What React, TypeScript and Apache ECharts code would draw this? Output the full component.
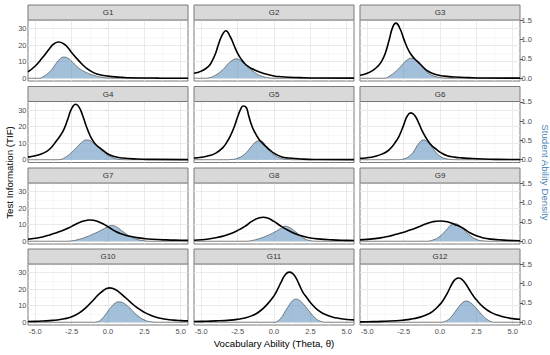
import React, { useEffect, useRef } from 'react';
import * as echarts from 'echarts';

const groups = ['G1', 'G2', 'G3', 'G4', 'G5', 'G6', 'G7', 'G8', 'G9', 'G10', 'G11', 'G12'];
const thetaTicks = [-5, -2.5, 0, 2.5, 5];
const thetaMinor = [-3.75, -1.25, 1.25, 3.75];
const tifTicks = [0, 10, 20, 30];
const tifMinor = [5, 15, 25, 35];
const densityTicks = [0, 0.5, 1, 1.5];

const tifG1 = [[-5.5, 3.9], [-5, 7.4], [-4.5, 12.5], [-4, 18.2], [-3.75, 20.6], [-3.4, 22], [-3, 20.6], [-2.75, 18.5], [-2.5, 15.6], [-2, 10.5], [-1.5, 6.2], [-1, 3.4], [-0.5, 2.0], [0, 1.3], [0.5, 0.8], [1, 0.5], [1.5, 0.3], [2.5, 0.15], [3.5, 0.08], [5.5, 0.03]];
const densG1 = [[-5.5, 0], [-4.75, 0], [-4.5, 0.03], [-4, 0.17], [-3.75, 0.29], [-3.5, 0.42], [-3.25, 0.52], [-3.05, 0.55], [-2.75, 0.52], [-2.5, 0.44], [-2.25, 0.35], [-2, 0.26], [-1.5, 0.15], [-1, 0.08], [-0.5, 0.03], [0, 0.008], [0.5, 0], [5.5, 0]];

const tifG2 = [[-5.5, 3.0], [-5, 4.3], [-4.5, 7.2], [-4.25, 10.5], [-4, 15.5], [-3.75, 22.3], [-3.5, 27.2], [-3.32, 28.8], [-3, 25], [-2.75, 20], [-2.5, 15.0], [-2.25, 11.5], [-2, 8.8], [-1.75, 7.0], [-1.5, 5.7], [-1.25, 4.7], [-1, 3.8], [-0.5, 2.4], [0, 1.4], [0.5, 0.9], [1, 0.6], [2, 0.3], [3, 0.15], [5.5, 0.05]];
const densG2 = [[-5.5, 0], [-4.75, 0], [-4.5, 0.01], [-4, 0.085], [-3.5, 0.23], [-3.25, 0.34], [-3, 0.43], [-2.75, 0.49], [-2.61, 0.506], [-2.25, 0.45], [-2, 0.36], [-1.75, 0.27], [-1.5, 0.2], [-1.25, 0.13], [-1, 0.08], [-0.5, 0.02], [0, 0.003], [0.5, 0], [5.5, 0]];

const tifG3 = [[-5.5, 1.8], [-5, 3.0], [-4.5, 5.5], [-4.25, 7.5], [-4, 10.5], [-3.75, 15.5], [-3.5, 23.0], [-3.25, 31.0], [-3.03, 33.4], [-2.75, 30.0], [-2.5, 24.0], [-2.25, 18.5], [-2, 14.5], [-1.75, 11.8], [-1.5, 9.8], [-1.25, 7.6], [-1, 5.4], [-0.75, 3.9], [-0.5, 2.9], [0, 1.7], [0.5, 1.1], [1, 0.7], [2, 0.35], [3, 0.15], [5.5, 0.05]];
const densG3 = [[-5.5, 0], [-4, 0], [-3.75, 0.005], [-3.5, 0.05], [-3, 0.19], [-2.5, 0.39], [-2.25, 0.48], [-1.95, 0.52], [-1.75, 0.49], [-1.5, 0.41], [-1.25, 0.31], [-1, 0.2], [-0.75, 0.12], [-0.5, 0.07], [0, 0.02], [0.5, 0.003], [1, 0], [5.5, 0]];

const tifG4 = [[-5.5, 1.6], [-5, 2.4], [-4.5, 3.8], [-4, 6.5], [-3.5, 12.0], [-3.25, 15.0], [-3, 19.0], [-2.75, 25.0], [-2.5, 31.0], [-2.22, 33.6], [-2, 32.0], [-1.75, 27.0], [-1.5, 20.5], [-1.25, 15.0], [-1, 11.0], [-0.75, 8.5], [-0.5, 6.8], [-0.25, 5.0], [0, 3.5], [0.5, 1.8], [1, 1.0], [2, 0.4], [3, 0.2], [5.5, 0.05]];
const densG4 = [[-5.5, 0], [-3.5, 0], [-3.25, 0.01], [-3, 0.05], [-2.5, 0.19], [-2, 0.38], [-1.75, 0.47], [-1.49, 0.514], [-1.25, 0.5], [-1, 0.43], [-0.75, 0.35], [-0.5, 0.27], [-0.25, 0.19], [0, 0.12], [0.5, 0.03], [1, 0.003], [1.5, 0], [5.5, 0]];

const tifG5 = [[-5.5, 1.0], [-5, 1.5], [-4.5, 2.4], [-4, 4.0], [-3.5, 7.5], [-3.25, 10.5], [-3, 14.5], [-2.75, 19.5], [-2.5, 26.0], [-2.25, 31.5], [-2.11, 32.6], [-1.9, 31.5], [-1.75, 27.0], [-1.5, 20.0], [-1.25, 15.5], [-1, 12.0], [-0.75, 9.6], [-0.5, 7.6], [-0.25, 5.6], [0, 4.0], [0.5, 1.8], [1, 1.0], [2, 0.35], [3, 0.15], [5.5, 0.05]];
const densG5 = [[-5.5, 0], [-3.25, 0], [-3, 0.005], [-2.5, 0.04], [-2, 0.15], [-1.5, 0.37], [-1.25, 0.46], [-0.96, 0.497], [-0.75, 0.46], [-0.5, 0.31], [-0.25, 0.21], [0, 0.13], [0.5, 0.035], [1, 0.008], [1.5, 0], [5.5, 0]];

const tifG6 = [[-5.5, 0.8], [-5, 1.2], [-4.5, 2.0], [-4, 3.4], [-3.5, 6.0], [-3, 11.5], [-2.75, 15.5], [-2.5, 21.0], [-2.25, 26.5], [-2, 28.4], [-1.75, 27.0], [-1.5, 23.0], [-1.25, 18.0], [-1, 13.8], [-0.75, 10.5], [-0.5, 8.0], [-0.25, 6.3], [0, 4.6], [0.5, 2.4], [1, 1.6], [1.5, 1.1], [2, 0.8], [3, 0.4], [4, 0.2], [5.5, 0.1]];
const densG6 = [[-5.5, 0], [-3, 0], [-2.5, 0.02], [-2, 0.13], [-1.75, 0.25], [-1.5, 0.4], [-1.15, 0.514], [-1, 0.5], [-0.75, 0.42], [-0.5, 0.3], [-0.25, 0.18], [0, 0.09], [0.5, 0.02], [1, 0.002], [1.5, 0], [5.5, 0]];

const tifG7 = [[-5.5, 1.2], [-5, 1.8], [-4.5, 2.6], [-4, 3.8], [-3.5, 5.3], [-3, 6.9], [-2.5, 9.0], [-2, 11.2], [-1.5, 12.6], [-1.26, 12.9], [-1, 12.7], [-0.5, 11.2], [0, 8.8], [0.5, 6.0], [1, 4.2], [1.5, 3.0], [2, 2.2], [2.5, 1.6], [3, 1.2], [4, 0.8], [5, 0.6], [5.5, 0.5]];
const densG7 = [[-5.5, 0], [-3, 0], [-2.5, 0.01], [-2, 0.05], [-1.5, 0.11], [-1, 0.19], [-0.5, 0.28], [0, 0.38], [0.23, 0.41], [0.5, 0.39], [0.75, 0.33], [1, 0.26], [1.5, 0.13], [2, 0.05], [2.5, 0.012], [3, 0], [5.5, 0]];

const tifG8 = [[-5.5, 0.6], [-5, 0.9], [-4.5, 1.4], [-4, 2.1], [-3.5, 3.1], [-3, 4.5], [-2.5, 6.5], [-2, 9.0], [-1.5, 12.2], [-1, 14.2], [-0.73, 14.5], [-0.5, 14.2], [0, 12.0], [0.5, 9.0], [1, 6.5], [1.5, 4.4], [2, 3.0], [2.5, 2.0], [3, 1.4], [4, 0.8], [5, 0.5], [5.5, 0.4]];
const densG8 = [[-5.5, 0], [-2, 0], [-1.5, 0.02], [-1, 0.07], [-0.5, 0.14], [0, 0.23], [0.5, 0.34], [0.76, 0.39], [1, 0.37], [1.5, 0.24], [2, 0.09], [2.5, 0.015], [3, 0], [5.5, 0]];

const tifG9 = [[-5.5, 0.8], [-5, 1.1], [-4.5, 1.6], [-4, 2.2], [-3.5, 3.0], [-3, 4.2], [-2.5, 5.5], [-2, 6.9], [-1.5, 8.6], [-1, 10.4], [-0.5, 11.8], [0, 12.3], [0.5, 11.8], [1, 10.2], [1.5, 8.3], [2, 5.4], [2.5, 3.3], [3, 2.0], [3.5, 1.3], [4, 0.9], [5, 0.4], [5.5, 0.3]];
const densG9 = [[-5.5, 0], [-1, 0], [-0.5, 0.03], [0, 0.13], [0.5, 0.32], [0.75, 0.42], [0.98, 0.46], [1.25, 0.43], [1.5, 0.35], [2, 0.17], [2.5, 0.05], [3, 0.008], [3.5, 0], [5.5, 0]];

const tifG10 = [[-5.5, 0.4], [-5, 0.5], [-4.5, 0.7], [-4, 1.0], [-3.5, 1.4], [-3, 2.1], [-2.5, 3.3], [-2, 5.5], [-1.5, 9.0], [-1, 13.5], [-0.5, 18.0], [0.11, 20.8], [0.5, 19.8], [1, 16.5], [1.5, 12.5], [2, 8.8], [2.5, 6.0], [3, 4.0], [3.5, 2.6], [4, 1.8], [4.5, 1.3], [5, 1.0], [5.5, 0.8]];
const densG10 = [[-5.5, 0], [-1, 0], [-0.75, 0.01], [-0.5, 0.06], [-0.25, 0.16], [0, 0.29], [0.25, 0.41], [0.5, 0.5], [0.73, 0.53], [1, 0.51], [1.25, 0.45], [1.5, 0.37], [1.75, 0.27], [2, 0.18], [2.5, 0.06], [3, 0.01], [3.5, 0], [5.5, 0]];

const tifG11 = [[-5.5, 0.4], [-5, 0.5], [-4, 0.8], [-3, 1.3], [-2.5, 1.8], [-2, 2.6], [-1.5, 4.0], [-1, 6.5], [-0.5, 10.5], [0, 16.0], [0.25, 20.0], [0.5, 24.5], [0.75, 28.5], [1.05, 30.4], [1.25, 29.8], [1.5, 27.0], [1.75, 22.5], [2, 18.0], [2.25, 15.0], [2.5, 12.0], [3, 7.5], [3.5, 4.8], [4, 3.2], [4.5, 2.3], [5, 1.7], [5.5, 1.4]];
const densG11 = [[-5.5, 0], [0, 0], [0.25, 0.03], [0.5, 0.12], [0.75, 0.27], [1, 0.42], [1.25, 0.55], [1.51, 0.6], [1.75, 0.57], [2, 0.48], [2.25, 0.37], [2.5, 0.25], [2.75, 0.14], [3, 0.06], [3.25, 0.02], [3.5, 0], [5.5, 0]];

const tifG12 = [[-5.5, 0.2], [-5, 0.3], [-4, 0.5], [-3, 0.9], [-2.5, 1.3], [-2, 1.9], [-1.5, 2.8], [-1, 4.2], [-0.5, 6.6], [0, 10.8], [0.25, 13.8], [0.5, 17.5], [0.75, 22.0], [1, 25.5], [1.26, 26.8], [1.5, 26.0], [1.75, 23.5], [2, 20.0], [2.25, 16.5], [2.5, 13.6], [3, 9.0], [3.5, 6.0], [4, 4.2], [4.5, 3.0], [5, 2.2], [5.5, 1.8]];
const densG12 = [[-5.5, 0], [0, 0], [0.25, 0.01], [0.5, 0.05], [0.75, 0.13], [1, 0.25], [1.25, 0.38], [1.5, 0.49], [1.79, 0.55], [2, 0.53], [2.25, 0.46], [2.5, 0.36], [2.75, 0.25], [3, 0.15], [3.25, 0.07], [3.5, 0.02], [3.75, 0], [5.5, 0]];

const tifData = [tifG1, tifG2, tifG3, tifG4, tifG5, tifG6, tifG7, tifG8, tifG9, tifG10, tifG11, tifG12];
const densData = [densG1, densG2, densG3, densG4, densG5, densG6, densG7, densG8, densG9, densG10, densG11, densG12];

const FONT = 'Liberation Sans, Arial, Helvetica, sans-serif';

export default function App() {
  const ref = useRef<HTMLDivElement>(null);
  useEffect(() => {
    document.body.style.margin = '0';
    if (!ref.current) return;
    const chart = echarts.init(ref.current, undefined, { renderer: 'svg' });
    const colLeft = [28, 194, 360];
    const rowTop = [20, 101.5, 183, 264];
    const W = 160;
    const H = 61;
    const tifMin = -1.68, tifMax = 35.3;
    const k = 35 / 1.5;
    const grids: any[] = [];
    const xAxes: any[] = [];
    const yAxes: any[] = [];
    const series: any[] = [];
    const graphics: any[] = [];
    const major = { color: '#e8e8e8', width: 0.9, type: 'solid' };
    const minor = { color: '#f3f3f3', width: 0.6, type: 'solid' };
    groups.forEach((g, i) => {
      const row = Math.floor(i / 3);
      const col = i % 3;
      const left = colLeft[col];
      const top = rowTop[row];
      grids.push({ left, top, width: W, height: H, show: true, backgroundColor: '#fff', borderColor: '#7a7a7a', borderWidth: 1 });
      xAxes.push({
        type: 'value', gridIndex: i, min: -5.5, max: 5.5,
        axisLine: { show: false }, splitLine: { show: false },
        axisTick: { show: row === 3, length: 3, lineStyle: { color: '#555' }, customValues: thetaTicks },
        axisLabel: { show: row === 3, customValues: thetaTicks, formatter: (v: number) => v.toFixed(1), fontSize: 7.5, color: '#4d4d4d', margin: 2.5, fontFamily: FONT },
      });
      yAxes.push({
        type: 'value', gridIndex: i, position: 'left', min: tifMin, max: tifMax,
        axisLine: { show: false }, splitLine: { show: false },
        axisTick: { show: col === 0, length: 3.5, lineStyle: { color: '#555' }, customValues: tifTicks },
        axisLabel: { show: col === 0, customValues: tifTicks, formatter: (v: number) => String(v), fontSize: 7.5, color: '#4d4d4d', margin: 1.5, fontFamily: FONT },
      });
      yAxes.push({
        type: 'value', gridIndex: i, position: 'right', min: tifMin / k, max: tifMax / k,
        axisLine: { show: false }, splitLine: { show: false },
        axisTick: { show: col === 2, length: 3, lineStyle: { color: '#555' }, customValues: densityTicks },
        axisLabel: { show: col === 2, customValues: densityTicks, formatter: (v: number) => v.toFixed(1), fontSize: 7.5, color: '#4d4d4d', margin: 1.5, fontFamily: FONT },
      });
      const ml: any[] = [];
      thetaMinor.forEach((v) => ml.push({ xAxis: v, lineStyle: minor }));
      tifMinor.forEach((v) => ml.push({ yAxis: v, lineStyle: minor }));
      thetaTicks.forEach((v) => ml.push({ xAxis: v, lineStyle: major }));
      tifTicks.forEach((v) => ml.push({ yAxis: v, lineStyle: major }));
      series.push({
        type: 'line', xAxisIndex: i, yAxisIndex: 2 * i, data: [], z: 1, silent: true,
        markLine: { z: 1, silent: true, symbol: 'none', label: { show: false }, animation: false, data: ml },
      });
      series.push({
        type: 'line', xAxisIndex: i, yAxisIndex: 2 * i + 1, data: densData[i], z: 8,
        smooth: true, showSymbol: false, symbol: 'none', silent: true,
        lineStyle: { color: '#3a3a3a', width: 0.6 },
        areaStyle: { color: 'rgba(70,130,180,0.5)', opacity: 1 },
      });
      series.push({
        type: 'line', xAxisIndex: i, yAxisIndex: 2 * i, data: tifData[i], z: 9,
        smooth: true, showSymbol: false, symbol: 'none', silent: true,
        lineStyle: { color: '#000', width: 1.6 },
      });
      graphics.push({
        type: 'rect', shape: { x: left, y: top - 15, width: W, height: 15 },
        style: { fill: '#d9d9d9', stroke: '#7a7a7a', lineWidth: 1 }, z: 10,
      });
      graphics.push({
        type: 'text', x: left + W / 2, y: top - 7.5, z: 11,
        style: { text: g, align: 'center', verticalAlign: 'middle', fontSize: 8, fill: '#333', fontFamily: FONT },
      });
    });
    graphics.push({
      type: 'text', x: 274, y: 343, z: 11,
      style: { text: 'Vocabulary Ability (Theta, θ)', align: 'center', verticalAlign: 'middle', fontSize: 9.7, fill: '#000', fontFamily: FONT },
    });
    graphics.push({
      type: 'text', x: 9, y: 172.5, rotation: Math.PI / 2, z: 11,
      style: { text: 'Test Information (TIF)', align: 'center', verticalAlign: 'middle', fontSize: 9.7, fill: '#000', fontFamily: FONT },
    });
    graphics.push({
      type: 'text', x: 545, y: 172.5, rotation: -Math.PI / 2, z: 11,
      style: { text: 'Student Ability Density', align: 'center', verticalAlign: 'middle', fontSize: 9.7, fill: '#4682B4', fontFamily: FONT },
    });
    chart.setOption({
      animation: false,
      backgroundColor: '#fff',
      grid: grids,
      xAxis: xAxes,
      yAxis: yAxes,
      series,
      graphic: graphics,
    });
    return () => chart.dispose();
  }, []);
  return <div ref={ref} style={{ width: 550, height: 355 }} />;
}
